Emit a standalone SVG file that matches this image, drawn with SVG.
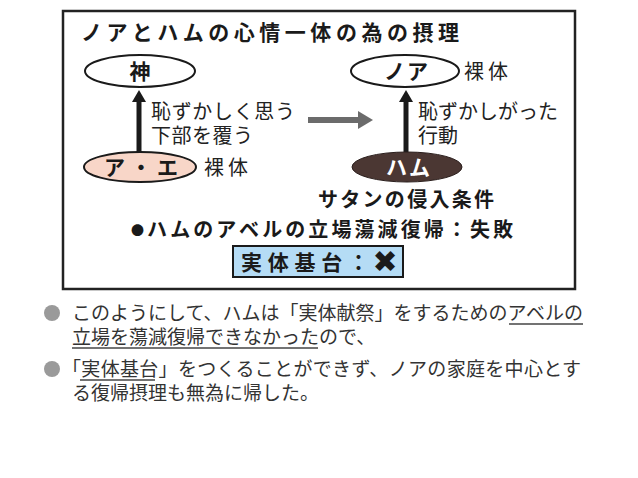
<svg xmlns="http://www.w3.org/2000/svg" width="638" height="478" viewBox="0 0 638 478">
<defs>
<style>
.b{font-family:"Noto Sans CJK JP","Noto Sans",sans-serif;font-weight:bold;fill:#1a1a1a}
.n{font-family:"Noto Sans CJK JP","Noto Sans",sans-serif;font-weight:normal;fill:#222}
.body{font-family:"Noto Sans CJK JP","Noto Sans",sans-serif;font-weight:normal;fill:#333;font-size:19px}
.oval{stroke:#1a1a1a;stroke-width:2}
.ul{stroke:#444;stroke-width:1.3}
</style>
<marker id="ah" markerUnits="userSpaceOnUse" markerWidth="14" markerHeight="14" refX="0" refY="7" orient="auto" viewBox="0 0 14 14">
<polygon points="0,0 12,7 0,14" fill="#1a1a1a"/>
</marker>
<marker id="ahg" markerUnits="userSpaceOnUse" markerWidth="16" markerHeight="18" refX="0" refY="9" orient="auto" viewBox="0 0 16 18">
<polygon points="0,0 15,9 0,18" fill="#6b6b6b"/>
</marker>
</defs>
<rect width="638" height="478" fill="#fff"/>
<rect x="63" y="11" width="512" height="278" fill="#fff" stroke="#222" stroke-width="2.5"/>
<text class="b" x="81" y="40" font-size="21" textLength="378" lengthAdjust="spacing">ノアとハムの心情一体の為の摂理</text>

<g id="connectors">
<line x1="139" y1="152" x2="139" y2="102" stroke="#1a1a1a" stroke-width="5" marker-end="url(#ah)"/>
<line x1="406" y1="152" x2="406" y2="102" stroke="#1a1a1a" stroke-width="5" marker-end="url(#ah)"/>
<line x1="308" y1="120" x2="358" y2="120" stroke="#6b6b6b" stroke-width="6" marker-end="url(#ahg)"/>
</g>

<g id="god">
<ellipse class="oval" cx="140" cy="71" rx="55" ry="16" fill="#fff"/>
<text class="b" x="140" y="79" font-size="21" text-anchor="middle">神</text>
</g>
<g id="noah">
<ellipse class="oval" cx="405" cy="71" rx="54" ry="16" fill="#fff"/>
<text class="b" x="384" y="79" font-size="21" textLength="44" lengthAdjust="spacing">ノア</text>
<text class="n" x="464" y="79" font-size="20" textLength="44" lengthAdjust="spacing">裸体</text>
</g>
<g id="adam-eve">
<ellipse class="oval" cx="140" cy="167" rx="56" ry="15" fill="#f8d6c8"/>
<text class="b" x="104" y="175" font-size="21" textLength="74" lengthAdjust="spacing">ア・エ</text>
<text class="n" x="204" y="175" font-size="20" textLength="44" lengthAdjust="spacing">裸体</text>
</g>
<g id="ham">
<ellipse cx="407" cy="167" rx="55" ry="15" fill="#4b3733" stroke="#2a1e1c" stroke-width="1"/>
<text class="b" x="386" y="175" font-size="21" textLength="44" lengthAdjust="spacing" style="fill:#fff">ハム</text>
</g>
<g id="label-left">
<text class="n" x="151" y="119" font-size="20" textLength="144" lengthAdjust="spacing">恥ずかしく思う</text>
<text class="n" x="151" y="143" font-size="20" textLength="102" lengthAdjust="spacing">下部を覆う</text>
</g>
<g id="label-right">
<text class="n" x="418" y="119" font-size="20" textLength="140" lengthAdjust="spacing">恥ずかしがった</text>
<text class="n" x="418" y="143" font-size="20" textLength="40" lengthAdjust="spacing">行動</text>
</g>
<g id="satan">
<text class="b" x="318" y="207" font-size="20" textLength="176" lengthAdjust="spacing">サタンの侵入条件</text>
</g>
<g id="result">
<text class="b" x="131" y="237" font-size="20" textLength="382" lengthAdjust="spacing"><tspan font-size="13" dy="-2">●</tspan><tspan dy="2">ハムのアベルの立場蕩減復帰：失敗</tspan></text>
</g>
<g id="foundation">
<rect x="233" y="246" width="170" height="31" fill="#b5dcf5" stroke="#1a1a1a" stroke-width="2"/>
<text class="b" x="241" y="270" font-size="21" textLength="128" lengthAdjust="spacing">実体基台：</text>
<text x="385" y="272" font-size="30" text-anchor="middle" font-family="DejaVu Sans, sans-serif" font-weight="bold" fill="#1a1a1a">✖</text>
</g>

<g id="notes">
<circle cx="52" cy="313" r="8" fill="#9a9a9a"/>
<text class="body" x="72" y="320" textLength="511" lengthAdjust="spacing">このようにして、ハムは「実体献祭」をするためのアベルの</text>
<line class="ul" x1="509" y1="324" x2="583" y2="324"/>
<text class="body" x="72" y="344">立場を蕩減復帰できなかったので、</text>
<line class="ul" x1="72" y1="348" x2="318" y2="348"/>
<circle cx="52" cy="369" r="8" fill="#9a9a9a"/>
<text class="body" x="62" y="376" textLength="519" lengthAdjust="spacing">「実体基台」をつくることができず、ノアの家庭を中心とす</text>
<line class="ul" x1="80" y1="380" x2="155" y2="380"/>
<text class="body" x="72" y="400">る復帰摂理も無為に帰した。</text>
</g>
</svg>
